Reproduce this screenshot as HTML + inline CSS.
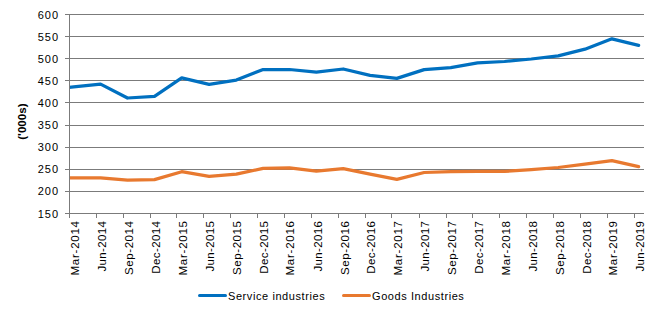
<!DOCTYPE html><html><head><meta charset="utf-8"><style>html,body{margin:0;padding:0;background:#fff;width:658px;height:316px;overflow:hidden}svg{display:block}text{font-family:"Liberation Sans",sans-serif;fill:#000}</style></head><body>
<svg width="658" height="316" viewBox="0 0 658 316">
<rect x="65" y="14" width="579" height="1" fill="#7B7B7B"/>
<rect x="65" y="36" width="579" height="1" fill="#7B7B7B"/>
<rect x="65" y="58" width="579" height="1" fill="#7B7B7B"/>
<rect x="65" y="80" width="579" height="1" fill="#7B7B7B"/>
<rect x="65" y="102" width="579" height="1" fill="#7B7B7B"/>
<rect x="65" y="125" width="579" height="1" fill="#7B7B7B"/>
<rect x="65" y="147" width="579" height="1" fill="#7B7B7B"/>
<rect x="65" y="169" width="579" height="1" fill="#7B7B7B"/>
<rect x="65" y="191" width="579" height="1" fill="#7B7B7B"/>
<rect x="65" y="213" width="579" height="1" fill="#7B7B7B"/>
<rect x="69" y="213" width="1" height="5" fill="#7B7B7B"/>
<rect x="96" y="213" width="1" height="5" fill="#7B7B7B"/>
<rect x="123" y="213" width="1" height="5" fill="#7B7B7B"/>
<rect x="150" y="213" width="1" height="5" fill="#7B7B7B"/>
<rect x="176" y="213" width="1" height="5" fill="#7B7B7B"/>
<rect x="203" y="213" width="1" height="5" fill="#7B7B7B"/>
<rect x="230" y="213" width="1" height="5" fill="#7B7B7B"/>
<rect x="257" y="213" width="1" height="5" fill="#7B7B7B"/>
<rect x="284" y="213" width="1" height="5" fill="#7B7B7B"/>
<rect x="311" y="213" width="1" height="5" fill="#7B7B7B"/>
<rect x="338" y="213" width="1" height="5" fill="#7B7B7B"/>
<rect x="365" y="213" width="1" height="5" fill="#7B7B7B"/>
<rect x="391" y="213" width="1" height="5" fill="#7B7B7B"/>
<rect x="419" y="213" width="1" height="5" fill="#7B7B7B"/>
<rect x="446" y="213" width="1" height="5" fill="#7B7B7B"/>
<rect x="472" y="213" width="1" height="5" fill="#7B7B7B"/>
<rect x="499" y="213" width="1" height="5" fill="#7B7B7B"/>
<rect x="526" y="213" width="1" height="5" fill="#7B7B7B"/>
<rect x="553" y="213" width="1" height="5" fill="#7B7B7B"/>
<rect x="580" y="213" width="1" height="5" fill="#7B7B7B"/>
<rect x="607" y="213" width="1" height="5" fill="#7B7B7B"/>
<rect x="634" y="213" width="1" height="5" fill="#7B7B7B"/>
<defs><clipPath id="pc"><rect x="69" y="0" width="589" height="316"/></clipPath></defs><g clip-path="url(#pc)">
<polyline points="69.00,177.80 73.68,177.80 100.59,177.80 127.50,180.20 154.50,179.60 181.71,171.70 209.12,176.30 236.32,174.20 263.13,168.40 289.53,167.80 316.34,171.10 343.25,168.60 370.05,174.10 396.86,179.30 424.17,172.50 450.77,171.60 477.58,171.40 504.48,171.40 531.29,169.70 558.20,167.50 585.00,164.10 611.91,160.70 638.62,166.60" fill="none" stroke="#E8792F" stroke-width="3.25" stroke-linejoin="round" stroke-linecap="round"/>
<polyline points="69.00,87.39 73.68,86.90 100.59,84.10 127.50,98.00 154.50,96.40 181.71,77.90 209.12,84.30 236.32,80.10 263.13,69.50 289.53,69.50 316.34,72.20 343.25,69.00 370.05,75.40 396.86,78.40 424.17,69.60 450.77,67.60 477.58,62.80 504.48,61.50 531.29,59.00 558.20,55.80 585.00,49.20 611.91,38.80 638.62,45.30" fill="none" stroke="#0070C0" stroke-width="3.25" stroke-linejoin="round" stroke-linecap="round"/></g>
<rect x="69" y="14" width="1" height="204" fill="#7B7B7B"/>
<text x="59" y="18.50" font-size="11" text-anchor="end" letter-spacing="1">600</text>
<text x="59" y="40.61" font-size="11" text-anchor="end" letter-spacing="1">550</text>
<text x="59" y="62.72" font-size="11" text-anchor="end" letter-spacing="1">500</text>
<text x="59" y="84.83" font-size="11" text-anchor="end" letter-spacing="1">450</text>
<text x="59" y="106.94" font-size="11" text-anchor="end" letter-spacing="1">400</text>
<text x="59" y="129.06" font-size="11" text-anchor="end" letter-spacing="1">350</text>
<text x="59" y="151.17" font-size="11" text-anchor="end" letter-spacing="1">300</text>
<text x="59" y="173.28" font-size="11" text-anchor="end" letter-spacing="1">250</text>
<text x="59" y="195.39" font-size="11" text-anchor="end" letter-spacing="1">200</text>
<text x="59" y="217.50" font-size="11" text-anchor="end" letter-spacing="1">150</text>
<text transform="translate(79.00,221) rotate(-90)" font-size="11.5" text-anchor="end" textLength="54.5" lengthAdjust="spacing">Mar-2014</text>
<text transform="translate(106.11,221) rotate(-90)" font-size="11.5" text-anchor="end" textLength="50.5" lengthAdjust="spacing">Jun-2014</text>
<text transform="translate(133.22,221) rotate(-90)" font-size="11.5" text-anchor="end" textLength="54" lengthAdjust="spacing">Sep-2014</text>
<text transform="translate(160.03,221) rotate(-90)" font-size="11.5" text-anchor="end" textLength="52.8" lengthAdjust="spacing">Dec-2014</text>
<text transform="translate(186.55,221) rotate(-90)" font-size="11.5" text-anchor="end" textLength="54.5" lengthAdjust="spacing">Mar-2015</text>
<text transform="translate(213.66,221) rotate(-90)" font-size="11.5" text-anchor="end" textLength="50.5" lengthAdjust="spacing">Jun-2015</text>
<text transform="translate(240.77,221) rotate(-90)" font-size="11.5" text-anchor="end" textLength="54" lengthAdjust="spacing">Sep-2015</text>
<text transform="translate(267.58,221) rotate(-90)" font-size="11.5" text-anchor="end" textLength="52.8" lengthAdjust="spacing">Dec-2015</text>
<text transform="translate(294.40,221) rotate(-90)" font-size="11.5" text-anchor="end" textLength="54.5" lengthAdjust="spacing">Mar-2016</text>
<text transform="translate(321.51,221) rotate(-90)" font-size="11.5" text-anchor="end" textLength="50.5" lengthAdjust="spacing">Jun-2016</text>
<text transform="translate(348.61,221) rotate(-90)" font-size="11.5" text-anchor="end" textLength="54" lengthAdjust="spacing">Sep-2016</text>
<text transform="translate(375.43,221) rotate(-90)" font-size="11.5" text-anchor="end" textLength="52.8" lengthAdjust="spacing">Dec-2016</text>
<text transform="translate(401.95,221) rotate(-90)" font-size="11.5" text-anchor="end" textLength="54.5" lengthAdjust="spacing">Mar-2017</text>
<text transform="translate(429.06,221) rotate(-90)" font-size="11.5" text-anchor="end" textLength="50.5" lengthAdjust="spacing">Jun-2017</text>
<text transform="translate(456.17,221) rotate(-90)" font-size="11.5" text-anchor="end" textLength="54" lengthAdjust="spacing">Sep-2017</text>
<text transform="translate(482.98,221) rotate(-90)" font-size="11.5" text-anchor="end" textLength="52.8" lengthAdjust="spacing">Dec-2017</text>
<text transform="translate(509.50,221) rotate(-90)" font-size="11.5" text-anchor="end" textLength="54.5" lengthAdjust="spacing">Mar-2018</text>
<text transform="translate(536.61,221) rotate(-90)" font-size="11.5" text-anchor="end" textLength="50.5" lengthAdjust="spacing">Jun-2018</text>
<text transform="translate(563.72,221) rotate(-90)" font-size="11.5" text-anchor="end" textLength="54" lengthAdjust="spacing">Sep-2018</text>
<text transform="translate(590.53,221) rotate(-90)" font-size="11.5" text-anchor="end" textLength="52.8" lengthAdjust="spacing">Dec-2018</text>
<text transform="translate(617.05,221) rotate(-90)" font-size="11.5" text-anchor="end" textLength="54.5" lengthAdjust="spacing">Mar-2019</text>
<text transform="translate(644.16,221) rotate(-90)" font-size="11.5" text-anchor="end" textLength="50.5" lengthAdjust="spacing">Jun-2019</text>
<text transform="translate(25.8,121.6) rotate(-90)" font-size="11.6" font-weight="bold" text-anchor="middle">('000s)</text>
<rect x="198" y="294" width="29" height="3" fill="#0070C0" rx="1.5"/>
<text x="228" y="300" font-size="11" letter-spacing="0.58">Service industries</text>
<rect x="342" y="294" width="29" height="3" fill="#E8792F" rx="1.5"/>
<text x="372" y="300" font-size="11" letter-spacing="0.58">Goods Industries</text>
</svg></body></html>
